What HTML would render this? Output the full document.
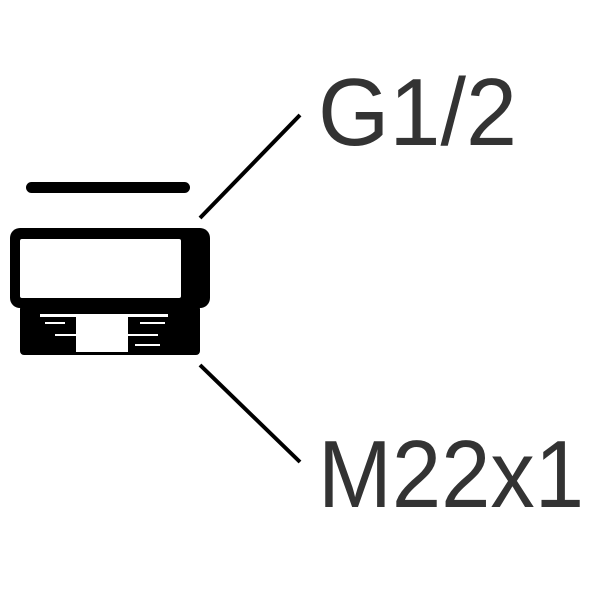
<!DOCTYPE html>
<html><head><style>html,body{margin:0;padding:0;background:#fff;width:600px;height:600px;overflow:hidden}</style></head>
<body>
<svg width="600" height="600" viewBox="0 0 600 600" xmlns="http://www.w3.org/2000/svg">
<rect x="26" y="182" width="164" height="11" rx="5.5" fill="#000"/>
<rect x="10" y="228" width="200" height="80" rx="10" fill="#000"/>
<rect x="20" y="239" width="161" height="59" rx="2" fill="#fff"/>
<rect x="20" y="305" width="180" height="50" rx="4" fill="#000"/>
<rect x="76" y="314" width="52" height="38" fill="#fff"/>
<g fill="#fff">
<rect x="40" y="314" width="36" height="3"/><rect x="45" y="322" width="20" height="2"/><rect x="55" y="334" width="21" height="2"/>
<rect x="128" y="314" width="40" height="3"/><rect x="140" y="322" width="25" height="2"/><rect x="128" y="334" width="30" height="2"/><rect x="135" y="344" width="25" height="2"/>
</g>
<line x1="200" y1="218" x2="300" y2="115" stroke="#000" stroke-width="4"/>
<line x1="200" y1="365" x2="300" y2="462" stroke="#000" stroke-width="4"/>
<text x="318" y="145" font-family="Liberation Sans, sans-serif" font-size="96" fill="#333" textLength="199" lengthAdjust="spacingAndGlyphs">G1/2</text>
<text x="318" y="507" font-family="Liberation Sans, sans-serif" font-size="96" fill="#333" textLength="266" lengthAdjust="spacingAndGlyphs">M22x1</text>
</svg>
</body></html>
